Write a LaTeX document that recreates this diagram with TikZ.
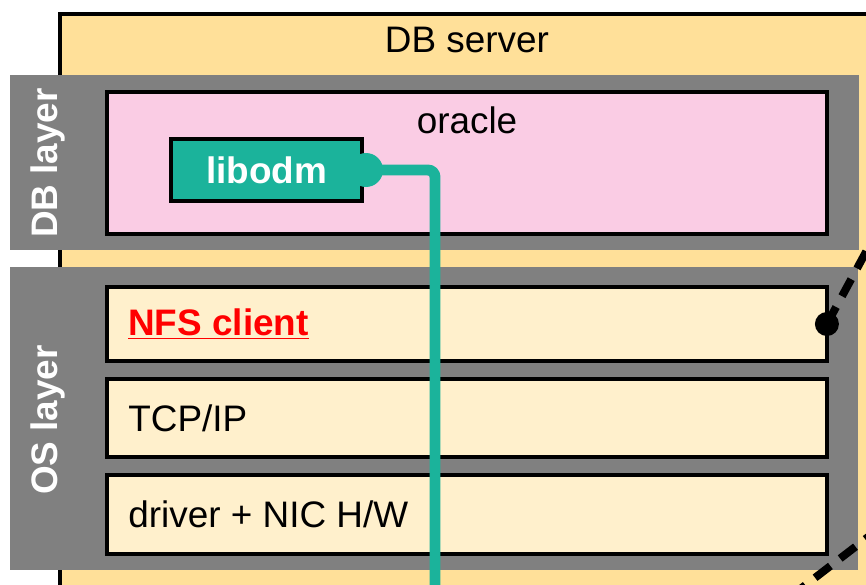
\documentclass[tikz,border=0pt]{standalone}
\usepackage{fontspec}
\setmainfont{Liberation Sans}
\usetikzlibrary{positioning,calc}
\definecolor{serverfill}{RGB}{255,224,153}
\definecolor{oraclefill}{RGB}{250,204,228}
\definecolor{osfill}{RGB}{255,240,204}
\definecolor{layergray}{RGB}{128,128,128}
\definecolor{odmteal}{RGB}{27,179,155}

\begin{document}
\begin{tikzpicture}[x=0.02cm, y=-0.02cm,
    txt/.style={font=\fontsize{21}{25}\selectfont},
    box/.style={draw, line width=2.3pt, inner sep=0pt, outer sep=0pt, minimum width=14.4cm},
    band/.style={fill=layergray, inner sep=0pt, outer sep=0pt, anchor=north west},
    dashline/.style={line width=4.5pt, dash pattern=on 11pt off 7pt}
]
    \clip (0,0) rectangle (866,585);

    % DB server wrapper
    \node[draw, line width=2.3pt, fill=serverfill, anchor=north west, minimum width=17.86cm, minimum height=12.76cm] (server) at (58,12) {};
    \node[txt] (servertitle) at (467,40) {DB server};

    % gray layer bands
    \node[band, minimum width=16.98cm, minimum height=3.5cm] (dblayer) at (10,75) {};
    \node[band, minimum width=16.96cm, minimum height=6.06cm] (oslayer) at (10,267) {};
    \node[txt, font=\fontsize{21}{25}\selectfont\bfseries, text=white, rotate=90] (dblabel) at (48,163) {DB layer};
    \node[txt, font=\fontsize{21}{25}\selectfont\bfseries, text=white, rotate=90] (oslabel) at (48,420) {OS layer};

    % DB layer
    \node[box, fill=oraclefill, minimum height=2.84cm] (oracle) at (467,163) {};
    \node[txt] (oracletitle) at (467,120) {oracle};
    \node[draw, line width=2.3pt, fill=odmteal, minimum width=3.82cm, minimum height=1.24cm, txt, font=\fontsize{21}{25}\selectfont\bfseries, text=white] (libodm) at (266.5,170) {libodm};

    % OS layer
    \node[box, fill=osfill, minimum height=1.48cm] (nfs) at (467,324) {};
    \node[box, fill=osfill, minimum height=1.56cm] (tcp) at (467,418) {};
    \node[box, fill=osfill, minimum height=1.58cm] (driver) at (467,514.5) {};
    \node[txt, font=\fontsize{21}{25}\selectfont\bfseries, text=red, anchor=west, inner sep=0pt] (nfslabel) at (128,324) {\underline{NFS client}};
    \node[txt, anchor=west, inner sep=0pt] (tcplabel) at (128,418) {TCP/IP};
    \node[txt, anchor=west, inner sep=0pt] (driverlabel) at (128,514.5) {driver + NIC H/W};

    % links leaving the server
    \node[circle, fill=black, minimum size=0.48cm, inner sep=0pt] (nfsdot) at (nfs.east) {};
    \coordinate (nasup) at (880,226);
    \draw[dashline] (nfsdot.center) -- (nasup);
    \coordinate (naslowA) at (790,597);
    \coordinate (naslowB) at (885,524);
    \draw[dashline] (naslowA) -- (naslowB);

    % libodm path down through the stack
    \node[circle, fill=odmteal, minimum size=0.68cm, inner sep=0pt] (odmdot) at ($(libodm.east)+(2,0)$) {};
    \coordinate (odmend) at (435,600);
    \draw[odmteal, line width=6.2pt, rounded corners=4pt] (odmdot.center) -| (odmend);
\end{tikzpicture}
\end{document}
